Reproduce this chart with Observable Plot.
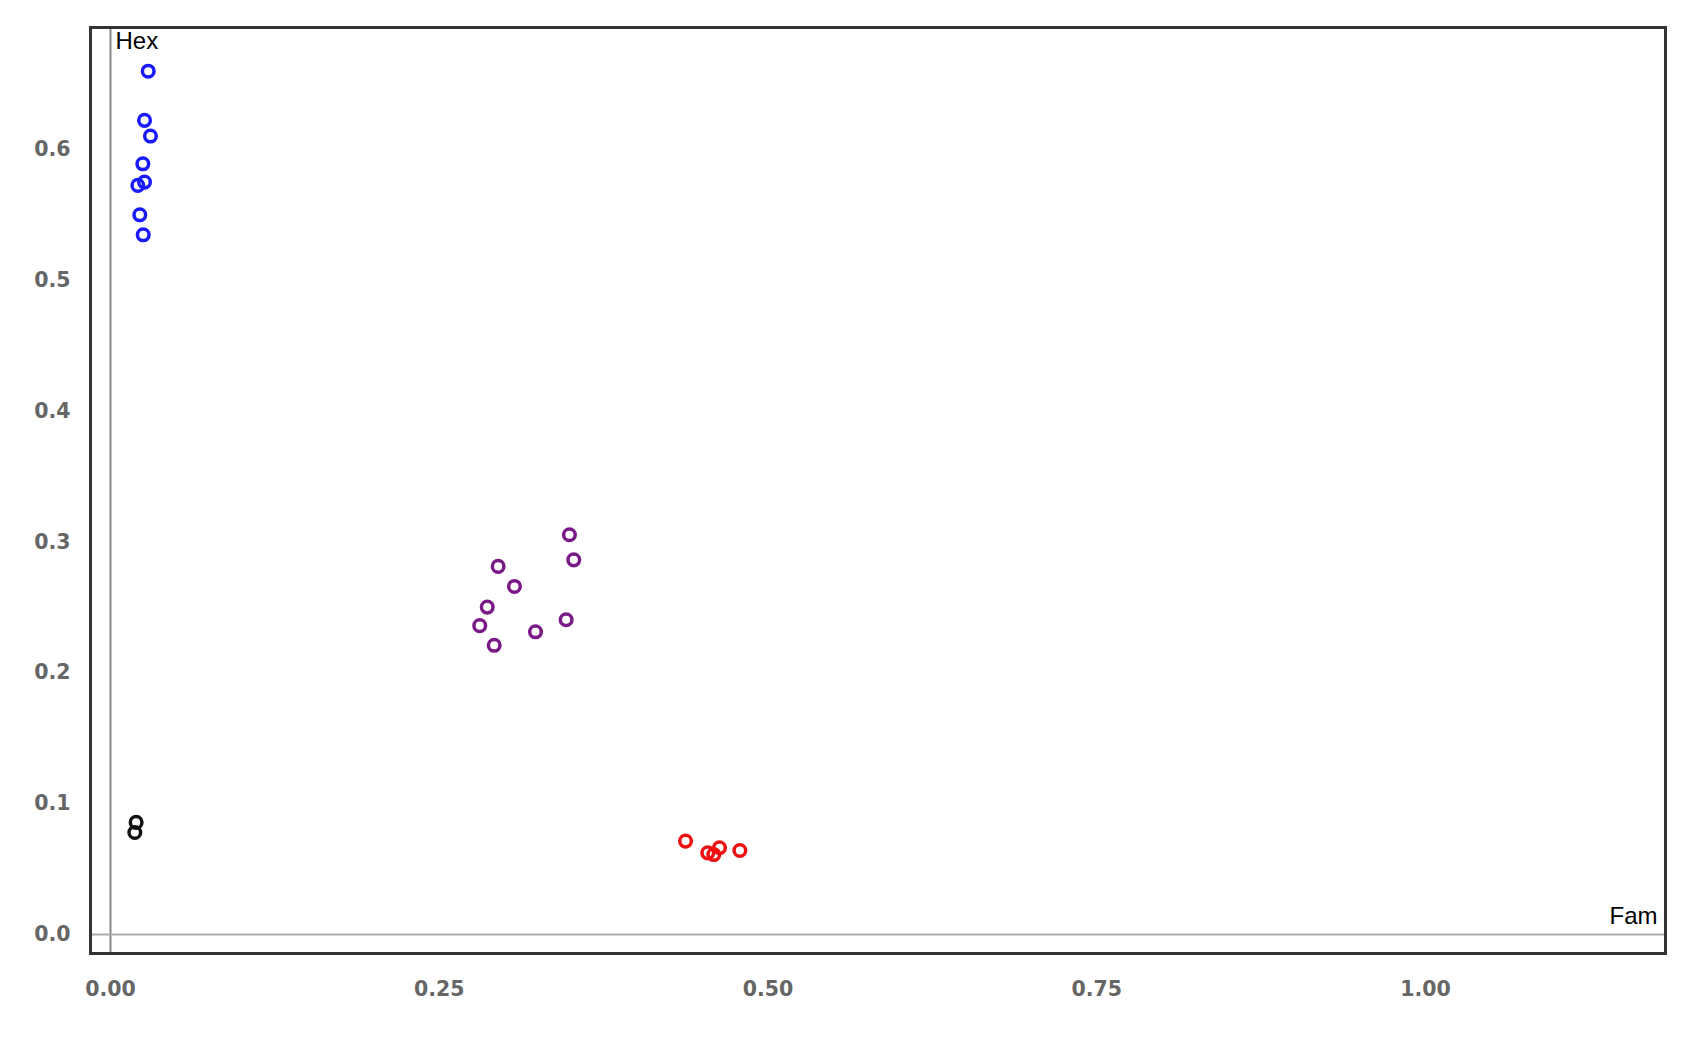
<!DOCTYPE html>
<html>
<head>
<meta charset="utf-8">
<script src="https://cdn.jsdelivr.net/npm/d3@7"></script>
<script src="https://cdn.jsdelivr.net/npm/@observablehq/plot@0.6"></script>
<style>
  html, body { margin: 0; padding: 0; background: #fff; }
  #chart { width: 1689px; height: 1039px; }
</style>
</head>
<body>
<div id="chart"></div>
<script>
// Data
const blueFam = [0.0287, 0.0259, 0.0304, 0.0246, 0.0208, 0.0259, 0.0223, 0.0249];
const blueHex = [0.6600, 0.6224, 0.6104, 0.5892, 0.5727, 0.5752, 0.5502, 0.5349];
const blackFam = [0.0195, 0.0185];
const blackHex = [0.0857, 0.0780];
const purpleFam = [0.3490, 0.3523, 0.2948, 0.3072, 0.2865, 0.2808, 0.2918, 0.3232, 0.3465];
const purpleHex = [0.3056, 0.2864, 0.2814, 0.2661, 0.2503, 0.2361, 0.2211, 0.2314, 0.2406];
const redFam = [0.4373, 0.4542, 0.4588, 0.4631, 0.4786];
const redHex = [0.0714, 0.0624, 0.0611, 0.0663, 0.0642];
const xTicks = [0, 0.25, 0.5, 0.75, 1.0];
const yTicks = [0, 0.1, 0.2, 0.3, 0.4, 0.5, 0.6];
const groups = [
  {name: "blue", color: "#1a1aff", fam: blueFam, hex: blueHex},
  {name: "black", color: "#111111", fam: blackFam, hex: blackHex},
  {name: "purple", color: "#7a1a86", fam: purpleFam, hex: purpleHex},
  {name: "red", color: "#ee1111", fam: redFam, hex: redHex}
];
const points = groups.flatMap(g => g.fam.map((f, i) => ({fam: f, hex: g.hex[i], color: g.color})));

const chart = Plot.plot({
  width: 1689,
  height: 1039,
  marginLeft: 90,
  marginRight: 24,
  marginTop: 27,
  marginBottom: 86,
  style: {background: "#fff", fontFamily: "DejaVu Sans, sans-serif"},
  x: {domain: [-0.0152, 1.1825], label: null},
  y: {domain: [-0.01453, 0.6934], label: null},
  marks: [
    Plot.ruleX([0], {stroke: "#888", strokeWidth: 2}),
    Plot.ruleY([0], {stroke: "#aaa", strokeWidth: 2}),
    Plot.frame({stroke: "#333", strokeWidth: 3}),
    Plot.dot(points, {x: "fam", y: "hex", stroke: d => d.color, r: 5.8, strokeWidth: 3.5, fill: "none"}),
    Plot.text(["Hex"], {frameAnchor: "top-left", dx: 25, dy: 4, fontSize: 24, fill: "#000", fontFamily: "Liberation Sans, Arial, sans-serif", textAnchor: "start", lineAnchor: "top"}),
    Plot.text(["Fam"], {x: [1.1825], y: [0], dx: -8, dy: -18, fontSize: 24, fill: "#000", fontFamily: "Liberation Sans, Arial, sans-serif", textAnchor: "end"}),
    Plot.axisX({ticks: xTicks, tickFormat: d3.format(".2f"), tickSize: 0, tickPadding: 28, fontSize: 20.5, fill: "#666", fontWeight: "bold", letterSpacing: "1px", label: null}),
    Plot.axisY({ticks: yTicks, tickFormat: d3.format(".1f"), tickSize: 0, tickPadding: 20, fontSize: 20.5, fill: "#666", fontWeight: "bold", letterSpacing: "1px", label: null})
  ]
});
document.getElementById("chart").appendChild(chart);
</script>
</body>
</html>
